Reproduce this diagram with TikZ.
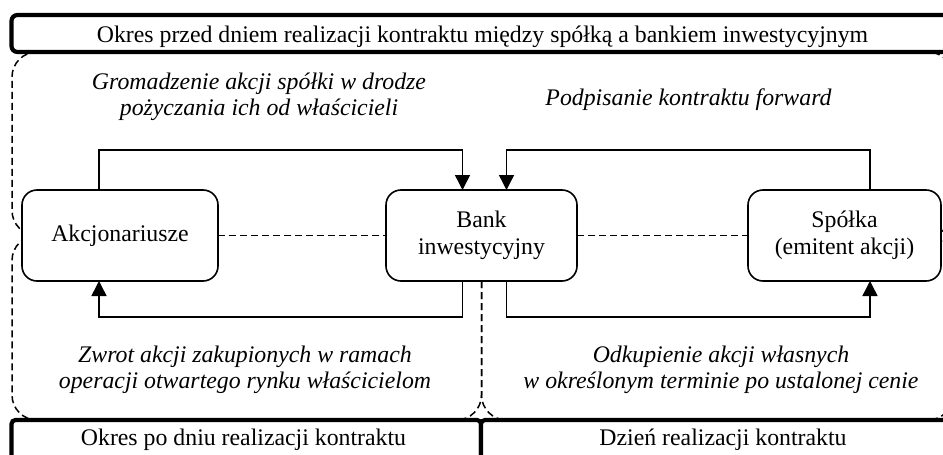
\documentclass[tikz,border=0pt]{standalone}
\usepackage{fontspec}
\setmainfont{Liberation Serif}
\usetikzlibrary{arrows.meta,backgrounds}
\begin{document}
\begin{tikzpicture}[x=1pt,y=-1pt,
  txt/.style={font=\fontsize{23.8}{26.5}\selectfont, inner sep=0pt, outer sep=0pt},
  lbl/.style={txt, font=\fontsize{23.8}{26.5}\selectfont\itshape, align=center},
  ent/.style={txt, draw, line width=1.6pt, rounded corners=15pt, fill=white, minimum height=91pt, align=center},
  period/.style={draw, line width=4.2pt, fill=white, inner sep=0pt, outer sep=0pt},
  arr/.style={line width=1.5pt, -{Triangle[length=15pt,width=15pt]}},
  dsh/.style={line width=1.5pt, dash pattern=on 7pt off 4pt, rounded corners=25pt},
]
\useasboundingbox (0,0) rectangle (943,455);
\clip (0,0) rectangle (943,455);

% period boxes
\node[period, rounded corners=6pt, minimum width=943.5pt, minimum height=37pt] (before) at (483.25,33.5) {};
\node[txt, anchor=base] (beforelbl) at (482.5,42) {Okres przed dniem realizacji kontraktu między spółką a bankiem inwestycyjnym};
\node[period, rounded corners=4pt, anchor=north west, minimum width=469.5pt, minimum height=60pt] (after) at (11.5,420) {};
\node[period, rounded corners=4pt, anchor=north west, minimum width=484pt, minimum height=60pt] (day) at (481,420) {};
\node[txt, anchor=base] (afterlbl) at (243.5,445) {Okres po dniu realizacji kontraktu};
\node[txt, anchor=base] (daylbl) at (723,445) {Dzień realizacji kontraktu};

% entities
\node[ent, minimum width=196pt] (akc) at (120,235.5) {Akcjonariusze};
\node[ent, minimum width=191pt] (bank) at (481.5,235.5) {Bank\\inwestycyjny};
\node[ent, minimum width=193pt] (sp) at (844.5,235.5) {Spółka\\(emitent akcji)};

% labels
\node[lbl] (l1) at (259,97) {Gromadzenie akcji spółki w drodze\\pożyczania ich od właścicieli};
\node[lbl, anchor=base] (l2) at (688.5,105) {Podpisanie kontraktu forward};
\node[lbl] (l3) at (245,370) {Zwrot akcji zakupionych w ramach\\operacji otwartego rynku właścicielom};
\node[lbl] (l4) at (721,370) {Odkupienie akcji własnych\\w określonym terminie po ustalonej cenie};

% anchor points
\coordinate (up) at (0,150);
\coordinate (dn) at (0,317);
\coordinate (floor) at (0,420);
\coordinate (akcT) at ([xshift=-21pt]akc.north);
\coordinate (akcB) at ([xshift=-21pt]akc.south);
\coordinate (spT) at ([xshift=25.5pt]sp.north);
\coordinate (spB) at ([xshift=25.5pt]sp.south);
\coordinate (bankTL) at ([xshift=-19pt]bank.north);
\coordinate (bankTR) at ([xshift=25pt]bank.north);
\coordinate (bankBL) at ([xshift=-19pt]bank.south);
\coordinate (bankBR) at ([xshift=25pt]bank.south);

% arrows
\draw[arr] (akcT) |- (up -| bankTL) -- (bankTL);
\draw[arr] (spT) |- (up -| bankTR) -- (bankTR);
\draw[arr] (bankBL) |- (dn -| akcB) -- (akcB);
\draw[arr] (bankBR) |- (dn -| spB) -- (spB);

% dashed connectors
\draw[dsh] (akc) -- (bank);
\draw[dsh] (bank) -- (sp);

% dashed period outlines
\begin{scope}[on background layer]
\clip (0,0) rectangle (943,455);
\draw[dsh] (60,52) -- (12,52) -- (12,235.5) -- (60,235.5);
\draw[dsh] (60,235.5) -- (12,235.5) -- (12,420) -- (60,420);
\draw[dsh] (900,52) -- (953,52) -- (953,235.5) -- (900,235.5);
\draw[dsh] (900,235.5) -- (953,235.5) -- (953,420) -- (900,420);
\draw[dsh] (bank.south) -- (bank.south |- floor) -- (430,420);
\draw[dsh] (bank.south) -- (bank.south |- floor) -- (530,420);
\end{scope}
\end{tikzpicture}
\end{document}
